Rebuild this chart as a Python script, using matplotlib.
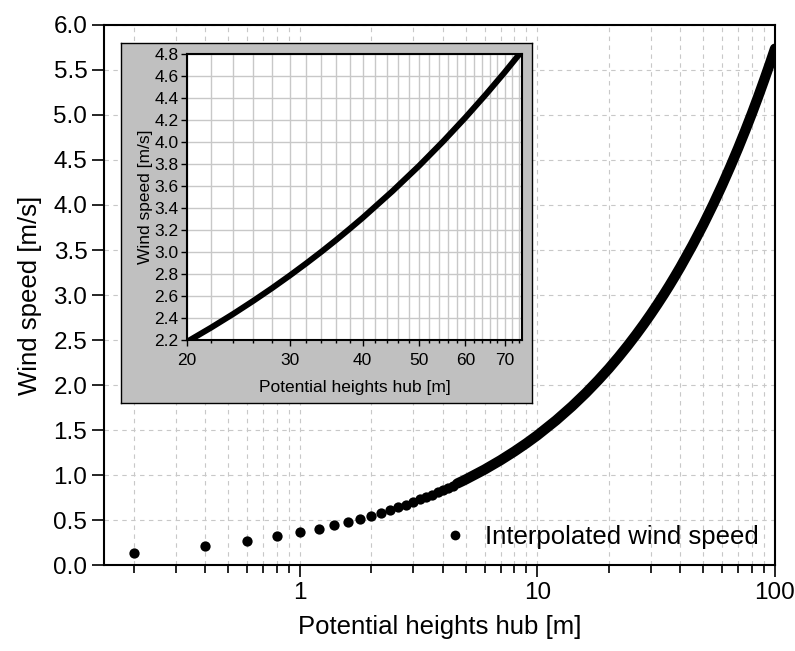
import matplotlib
matplotlib.use("Agg")
import matplotlib.pyplot as plt
import matplotlib.ticker as ticker
import numpy as np

plt.rcParams["font.family"] = ["Liberation Sans", "DejaVu Sans"]

# hub heights [m] and interpolated wind speed [m/s]
heights = [0.2, 0.4, 0.6, 0.8, 1.0, 1.2, 1.4, 1.6, 1.8, 2.0,
           2.2, 2.4, 2.6, 2.8, 3.0, 3.2, 3.4, 3.6, 3.8, 4.0,
           4.2, 4.4, 4.6, 4.8, 5.0, 6, 7, 8, 9, 10,
           12, 14, 16, 18, 20, 22, 24, 26, 28, 30,
           32, 34, 36, 38, 40, 45, 50, 55, 60, 65,
           70, 75, 80, 85, 90, 95, 100]
speeds = [0.138, 0.209, 0.266, 0.317, 0.362, 0.404, 0.443, 0.480, 0.515, 0.549,
          0.581, 0.612, 0.642, 0.672, 0.700, 0.728, 0.754, 0.781, 0.807, 0.832,
          0.856, 0.881, 0.905, 0.928, 0.951, 1.061, 1.164, 1.261, 1.353, 1.441,
          1.608, 1.764, 1.911, 2.051, 2.184, 2.313, 2.437, 2.557, 2.673, 2.786,
          2.896, 3.003, 3.108, 3.211, 3.311, 3.554, 3.785, 4.008, 4.223, 4.431,
          4.632, 4.828, 5.018, 5.204, 5.386, 5.563, 5.737]

main_yticks = [0.0, 0.5, 1.0, 1.5, 2.0, 2.5, 3.0, 3.5, 4.0, 4.5, 5.0, 5.5, 6.0]
inset_xticks = [20, 30, 40, 50, 60, 70]
inset_yticks = [2.2, 2.4, 2.6, 2.8, 3.0, 3.2, 3.4, 3.6, 3.8, 4.0, 4.2, 4.4, 4.6, 4.8]

h = np.array(heights)
v = np.array(speeds)
dense = h >= 4.6          # past here the dots merge into one thick band

fig = plt.figure(figsize=(7.95, 6.51), dpi=100)
ax = fig.add_axes([0.1308, 0.1321, 0.844, 0.8295])

ax.plot(h[dense], v[dense], "-", color="black", lw=7.4, solid_capstyle="round", zorder=3)
ax.plot(h[~dense], v[~dense], "o", color="black", ms=7.4, mew=0, ls="none", zorder=3,
        label="Interpolated wind speed")

ax.set_xscale("log")
ax.set_xlim(0.15, 100)
ax.set_ylim(0, 6)
ax.set_yticks(main_yticks)
ax.yaxis.set_major_formatter(ticker.FormatStrFormatter("%.1f"))
ax.xaxis.set_major_formatter(ticker.FuncFormatter(lambda x, _: f"{x:g}"))
ax.xaxis.set_minor_formatter(ticker.NullFormatter())
ax.tick_params(which="major", length=8.5, width=1.2, labelsize=17.5, direction="out")
ax.tick_params(which="minor", length=5.5, width=1.2, direction="out")
for s in ax.spines.values():
    s.set_linewidth(1.5)
ax.grid(True, which="both", axis="x", ls=(0, (4, 4)), color="#c8c8c8", lw=0.8)
ax.grid(True, which="major", axis="y", ls=(0, (4, 4)), color="#c8c8c8", lw=0.8)
ax.set_axisbelow(True)
ax.set_xlabel("Potential heights hub [m]", fontsize=18.5, labelpad=8)
ax.set_ylabel("Wind speed [m/s]", fontsize=18.5, labelpad=8)
ax.legend(loc="center left", bbox_to_anchor=(0.485, 0.052), frameon=False,
          fontsize=18.5, markerscale=0.95, handletextpad=0.55, handlelength=1.2,
          borderaxespad=0)

# grey panel behind the inset
bg = fig.add_axes([0.1522, 0.381, 0.517, 0.553])
bg.set_facecolor("#c0c0c0")
bg.set_xticks([])
bg.set_yticks([])
for s in bg.spines.values():
    s.set_linewidth(1.0)

ins = fig.add_axes([0.2352, 0.4777, 0.4214, 0.4393])
ins.plot(h, v, "-", color="black", lw=4.3, zorder=3)
ins.set_xscale("log")
ins.set_xlim(20, 75)
ins.set_ylim(2.2, 4.8)
ins.xaxis.set_major_locator(ticker.FixedLocator(inset_xticks))
ins.xaxis.set_minor_locator(ticker.FixedLocator(
    [m for m in range(22, 76, 2) if m not in inset_xticks]))
ins.xaxis.set_major_formatter(ticker.FuncFormatter(lambda x, _: f"{x:g}"))
ins.xaxis.set_minor_formatter(ticker.NullFormatter())
ins.set_yticks(inset_yticks)
ins.yaxis.set_major_formatter(ticker.FormatStrFormatter("%.1f"))
ins.tick_params(axis="y", which="major", length=4, width=1.0, labelsize=12.5,
                direction="out", pad=2)
ins.tick_params(axis="x", which="major", length=4, width=1.0, labelsize=12.5,
                direction="out", pad=5)
ins.tick_params(which="minor", length=2.5, width=1.0, direction="out")
for s in ins.spines.values():
    s.set_linewidth(1.5)
ins.grid(True, which="both", axis="x", color="#c8c8c8", lw=1.0)
ins.grid(True, which="major", axis="y", color="#c8c8c8", lw=1.0)
ins.set_axisbelow(True)
ins.set_xlabel("Potential heights hub [m]", fontsize=12.5, labelpad=9)
ins.set_ylabel("Wind speed [m/s]", fontsize=12.5, labelpad=1)

fig.savefig("out.png", dpi=100)
